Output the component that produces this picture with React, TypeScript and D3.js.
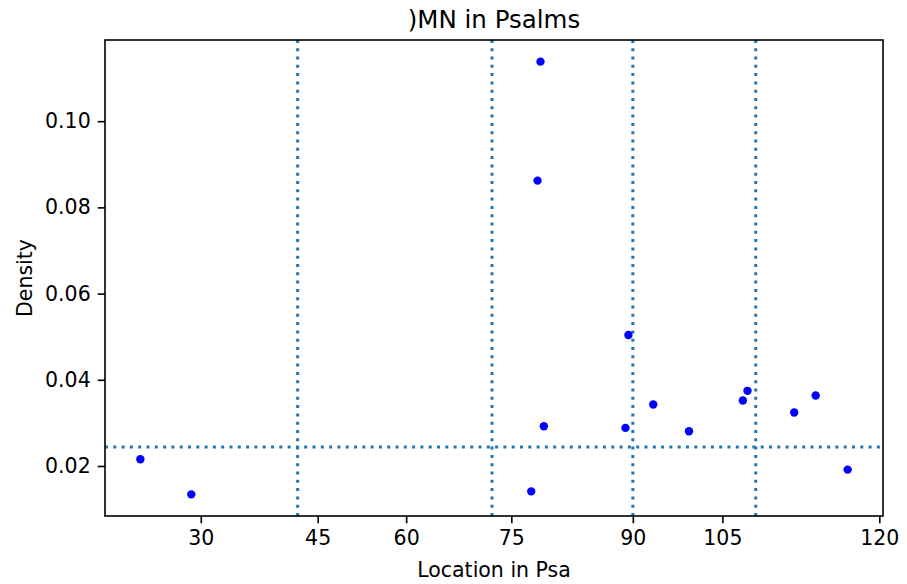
import React, { useRef, useEffect } from 'react';
import * as d3 from 'd3';

// location of each occurrence (running verse index through the book) and its density
const positions = [249, 370, 1178, 1193, 1200, 1208, 1402, 1409, 1468, 1553, 1681, 1692, 1803, 1854, 1930];
const densities = [0.02156, 0.01342, 0.01412, 0.08621, 0.11381, 0.02923, 0.02884, 0.0504, 0.03428, 0.02807, 0.03521, 0.03744, 0.03242, 0.03637, 0.01916];

// chapter starts used as x ticks
const tickPositions = [392.6, 670.4, 880.7, 1130.7, 1419.5, 1632.3, 2005.2];
const tickLabels = ['30', '45', '60', '75', '90', '105', '120'];

const yTicks = [0.02, 0.04, 0.06, 0.08, 0.1];

// section boundaries and baseline density
const boundaries = [622.8, 1084.7, 1419.5, 1711.6];
const baseline = 0.0244;

const title = ')MN in Psalms';
const xLabel = 'Location in Psa';
const yLabel = 'Density';

const App = () => {
  const chartRef = useRef<SVGSVGElement>(null);

  useEffect(() => {
    const width = 907;
    const height = 584;
    const margin = { top: 40, right: 24, bottom: 68, left: 105 };
    const font = '"DejaVu Sans", sans-serif';
    const lineColor = '#1f77b4';

    const svg = d3.select(chartRef.current);
    svg.selectAll('*').remove();
    svg.attr('width', width).attr('height', height);

    svg.append('rect').attr('width', width).attr('height', height).attr('fill', '#fff');

    //matplotlib style 5% padding around data
    const pad = (lo: number, hi: number) => {
      const d = (hi - lo) * 0.05;
      return [lo - d, hi + d];
    };
    const x = d3.scaleLinear()
      .domain(pad(d3.min(positions)!, d3.max(positions)!))
      .range([margin.left, width - margin.right]);
    const y = d3.scaleLinear()
      .domain(pad(d3.min(densities)!, d3.max(densities)!))
      .range([height - margin.bottom, margin.top]);

    const [x0, x1] = x.range();
    const [y0, y1] = y.range();

    //dotted reference lines
    svg.append('g')
      .selectAll('line')
      .data(boundaries)
      .join('line')
      .attr('x1', d => x(d))
      .attr('x2', d => x(d))
      .attr('y1', y0)
      .attr('y2', y1)
      .attr('stroke', lineColor)
      .attr('stroke-width', 3)
      .attr('stroke-dasharray', '3,5.3');

    svg.append('line')
      .attr('x1', x0)
      .attr('x2', x1)
      .attr('y1', y(baseline))
      .attr('y2', y(baseline))
      .attr('stroke', lineColor)
      .attr('stroke-width', 3)
      .attr('stroke-dasharray', '3,5.3');

    //points
    svg.append('g')
      .selectAll('circle')
      .data(positions.map((p, i) => [p, densities[i]]))
      .join('circle')
      .attr('cx', d => x(d[0]))
      .attr('cy', d => y(d[1]))
      .attr('r', 4.2)
      .attr('fill', '#0000ff');

    //frame
    svg.append('rect')
      .attr('x', x0)
      .attr('y', y1)
      .attr('width', x1 - x0)
      .attr('height', y0 - y1)
      .attr('fill', 'none')
      .attr('stroke', '#000')
      .attr('stroke-width', 1.6);

    //x axis
    const xAxis = svg.append('g')
      .attr('transform', `translate(0,${y0})`)
      .call(d3.axisBottom(x)
        .tickValues(tickPositions)
        .tickFormat((_, i) => tickLabels[i])
        .tickSize(7.3)
        .tickPadding(7));
    xAxis.select('.domain').remove();
    xAxis.selectAll('line').attr('stroke', '#000').attr('stroke-width', 1.6);
    xAxis.selectAll('text')
      .attr('font-family', font)
      .attr('font-size', 20.5)
      .attr('fill', '#000');

    //y axis
    const yAxis = svg.append('g')
      .attr('transform', `translate(${x0},0)`)
      .call(d3.axisLeft(y)
        .tickValues(yTicks)
        .tickFormat(d3.format('.2f'))
        .tickSize(7.3)
        .tickPadding(7));
    yAxis.select('.domain').remove();
    yAxis.selectAll('line').attr('stroke', '#000').attr('stroke-width', 1.6);
    yAxis.selectAll('text')
      .attr('font-family', font)
      .attr('font-size', 20.5)
      .attr('fill', '#000');

    //title and labels
    svg.append('text')
      .attr('x', (x0 + x1) / 2)
      .attr('y', 28)
      .attr('text-anchor', 'middle')
      .attr('font-family', font)
      .attr('font-size', 24.5)
      .attr('fill', '#000')
      .text(title);

    svg.append('text')
      .attr('x', (x0 + x1) / 2)
      .attr('y', 577)
      .attr('text-anchor', 'middle')
      .attr('font-family', font)
      .attr('font-size', 20.5)
      .attr('fill', '#000')
      .text(xLabel);

    svg.append('text')
      .attr('transform', `translate(32,${(y0 + y1) / 2}) rotate(-90)`)
      .attr('text-anchor', 'middle')
      .attr('font-family', font)
      .attr('font-size', 20.5)
      .attr('fill', '#000')
      .text(yLabel);
  }, []);

  return (
    <svg ref={chartRef} style={{ position: 'absolute', left: 0, top: 0 }}></svg>
  );
};

export default App;
